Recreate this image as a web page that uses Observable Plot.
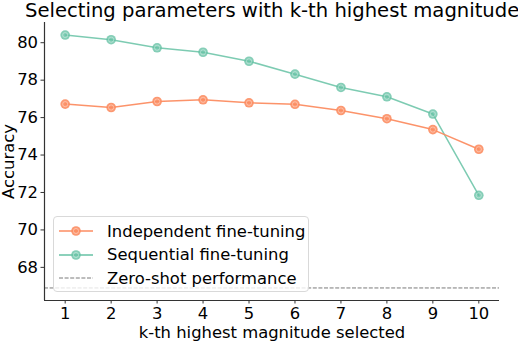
<!DOCTYPE html>
<html>
<head>
<meta charset="utf-8">
<script src="https://cdn.jsdelivr.net/npm/d3@7"></script>
<script src="https://cdn.jsdelivr.net/npm/@observablehq/plot@0.6"></script>
<style>
  html, body { margin: 0; padding: 0; background: #fff; }
  body { width: 518px; height: 342px; position: relative; overflow: hidden; font-family: "DejaVu Sans", sans-serif; }
  #title { position: absolute; left: 25px; top: -1px; font-size: 19.6px; white-space: nowrap; color: #000; line-height: 24px; }
  #legend { position: absolute; left: 53px; top: 216px; width: 256px; height: 76px; border: 1px solid #d9d9d9; border-radius: 4px; background: rgba(255,255,255,0.8); box-sizing: border-box; }
  .item { position: absolute; left: 4px; height: 22px; display: flex; align-items: center; font-size: 16.4px; color: #000; }
  .item svg { margin-right: 13px; }
</style>
</head>
<body>
<div id="chart"></div>
<div id="title">Selecting parameters with k-th highest magnitude</div>
<div id="legend"></div>
<script>
const ks = [1, 2, 3, 4, 5, 6, 7, 8, 9, 10];
const independent = [76.72, 76.54, 76.86, 76.95, 76.79, 76.71, 76.38, 75.94, 75.36, 74.31];
const sequential = [80.41, 80.16, 79.73, 79.49, 79.01, 78.32, 77.61, 77.11, 76.19, 71.85];
const zeroShot = 66.9;
const seriesNames = ["Independent fine-tuning", "Sequential fine-tuning", "Zero-shot performance"];
const colors = ["#fc8d62", "#66c2a5", "#7a7a7a"];
const yTicks = [68, 70, 72, 74, 76, 78, 80];
const xDomain = [0.55, 10.45];
const yDomain = [66.23, 81.08];

const indData = ks.map((k, i) => ({k, v: independent[i]}));
const seqData = ks.map((k, i) => ({k, v: sequential[i]}));

const chart = Plot.plot({
  width: 518,
  height: 342,
  marginLeft: 44,
  marginRight: 19,
  marginTop: 22,
  marginBottom: 42,
  style: {fontFamily: "DejaVu Sans, sans-serif", fontSize: "16px", color: "#000", background: "#fff"},
  x: {domain: xDomain},
  y: {domain: yDomain},
  marks: [
    Plot.ruleY([zeroShot], {stroke: colors[2], strokeWidth: 1, strokeDasharray: "4,1.6"}),
    Plot.line(seqData, {x: "k", y: "v", stroke: colors[1], strokeWidth: 1.5, strokeOpacity: 0.85}),
    Plot.dot(seqData, {x: "k", y: "v", r: 4.8, fill: colors[1], fillOpacity: 0.8, stroke: "none"}),
    Plot.dot(seqData, {x: "k", y: "v", r: 2.6, fill: "none", stroke: "#fff", strokeOpacity: 0.45, strokeWidth: 0.8}),
    Plot.line(indData, {x: "k", y: "v", stroke: colors[0], strokeWidth: 1.5, strokeOpacity: 0.95}),
    Plot.dot(indData, {x: "k", y: "v", r: 4.8, fill: colors[0], fillOpacity: 0.9, stroke: "none"}),
    Plot.dot(indData, {x: "k", y: "v", r: 2.6, fill: "none", stroke: "#fff", strokeOpacity: 0.45, strokeWidth: 0.8}),
    Plot.ruleX([xDomain[0]], {stroke: "#333", strokeWidth: 1.2}),
    Plot.ruleY([yDomain[0]], {stroke: "#333", strokeWidth: 1.2}),
    Plot.axisX(ks, {tickSize: 3.5, tickPadding: 3, stroke: "#333", fontSize: 16.4, label: "k-th highest magnitude selected", labelAnchor: "center", labelOffset: 37, labelArrow: "none", tickFormat: d => String(d)}),
    Plot.axisY(yTicks, {tickSize: 3.5, tickPadding: 3, stroke: "#333", fontSize: 16.4, label: "Accuracy", labelAnchor: "center", labelOffset: 42, labelArrow: "none", tickFormat: d => String(d)})
  ]
});
document.getElementById("chart").appendChild(chart);

const legend = document.getElementById("legend");
seriesNames.forEach((name, i) => {
  const item = document.createElement("div");
  item.className = "item";
  item.style.top = (3 + i * 23.5) + "px";
  const svg = d3.create("svg").attr("width", 36).attr("height", 12);
  if (i < 2) {
    svg.append("line").attr("x1", 1).attr("x2", 35).attr("y1", 6).attr("y2", 6)
      .attr("stroke", colors[i]).attr("stroke-width", 1.5);
    svg.append("circle").attr("cx", 18).attr("cy", 6).attr("r", 4.8)
      .attr("fill", colors[i]).attr("fill-opacity", i === 0 ? 0.9 : 0.8);
    svg.append("circle").attr("cx", 18).attr("cy", 6).attr("r", 2.6)
      .attr("fill", "none").attr("stroke", "#fff").attr("stroke-opacity", 0.45).attr("stroke-width", 0.8);
  } else {
    svg.append("line").attr("x1", 1).attr("x2", 35).attr("y1", 6).attr("y2", 6)
      .attr("stroke", colors[2]).attr("stroke-width", 1).attr("stroke-dasharray", "4,1.6");
  }
  item.appendChild(svg.node());
  const span = document.createElement("span");
  span.textContent = name;
  item.appendChild(span);
  legend.appendChild(item);
});
</script>
</body>
</html>
